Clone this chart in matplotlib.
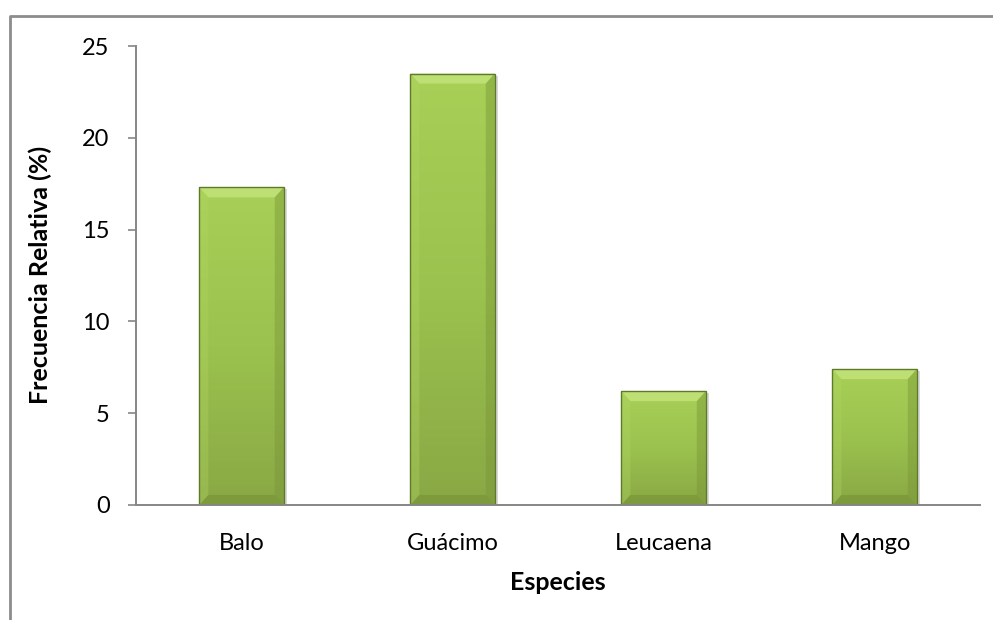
import numpy as np
import matplotlib
matplotlib.use("Agg")
import matplotlib.pyplot as plt
from matplotlib.patches import Polygon
from matplotlib.lines import Line2D
from matplotlib.colors import LinearSegmentedColormap

especies = ["Balo", "Guácimo", "Leucaena", "Mango"]
frecuencia = [17.3, 23.5, 6.2, 7.4]
y_ticks = [0, 5, 10, 15, 20, 25]

plt.rcParams["font.family"] = ["Lato", "DejaVu Sans"]

fig = plt.figure(figsize=(9.93, 6.2), dpi=100)
ax = fig.add_axes([0.137, 0.1855, 0.850, 0.7403])

# outer chart frame (left and top edges only)
fig.add_artist(Line2D([10 / 993, 10 / 993, 1.0], [0.0, 1 - 16 / 620, 1 - 16 / 620],
                      transform=fig.transFigure, color="#8c8c8c", lw=2.0))

ax.set_xlim(-0.5, len(especies) - 0.5)
ax.set_ylim(0, 25)

grad = LinearSegmentedColormap.from_list("bar", ["#89a845", "#9bc24e", "#a8d057"])
width = 0.40

fig.canvas.draw()
px_x = ax.transData.transform((1, 0))[0] - ax.transData.transform((0, 0))[0]
px_y = ax.transData.transform((0, 1))[1] - ax.transData.transform((0, 0))[1]
bx, by = 9 / px_x, 10 / px_y

for i, v in enumerate(frecuencia):
    x0, x1 = i - width / 2, i + width / 2
    # soft shadow behind the bar
    ax.add_patch(Polygon([(x0 + 2 / px_x, 0), (x1 + 3 / px_x, 0), (x1 + 3 / px_x, v - 2 / px_y),
                          (x0 + 2 / px_x, v - 2 / px_y)], closed=True,
                         facecolor="#000000", alpha=0.15, lw=0, zorder=1))
    bar = ax.bar(i, v, width=width, color="none", edgecolor="none", zorder=2)[0]
    img = ax.imshow(np.linspace(0, 1, 256).reshape(-1, 1), cmap=grad, origin="lower",
                    extent=(x0, x1, 0, v), aspect="auto", zorder=2)
    img.set_clip_path(bar)
    # bevel facets
    top = [(x0, v), (x1, v), (x1 - bx, v - by), (x0 + bx, v - by)]
    left = [(x0, v), (x0 + bx, v - by), (x0 + bx, by), (x0, 0)]
    right = [(x1, v), (x1, 0), (x1 - bx, by), (x1 - bx, v - by)]
    bottom = [(x0, 0), (x1, 0), (x1 - bx, by), (x0 + bx, by)]
    ax.add_patch(Polygon(top, closed=True, facecolor="#c4e47c", alpha=0.8, lw=0, zorder=3))
    ax.add_patch(Polygon(left, closed=True, facecolor="#b0d562", alpha=0.35, lw=0, zorder=3))
    ax.add_patch(Polygon(right, closed=True, facecolor="#7a9638", alpha=0.45, lw=0, zorder=3))
    ax.add_patch(Polygon(bottom, closed=True, facecolor="#6f8a32", alpha=0.45, lw=0, zorder=3))
    ax.add_patch(Polygon([(x0, 0), (x0, v), (x1, v), (x1, 0)], closed=True,
                         facecolor="none", edgecolor="#5d7a2a", lw=1.0, zorder=4))

ax.set_xticks(range(len(especies)))
ax.set_xticklabels(especies, fontsize=17)
ax.tick_params(axis="x", length=0, pad=20)
ax.set_yticks(y_ticks)
ax.set_yticklabels([str(t) for t in y_ticks], fontsize=17)
ax.tick_params(axis="y", length=6, width=1.2, color="#868686", pad=13)

for s in ("top", "right"):
    ax.spines[s].set_visible(False)
for s in ("left", "bottom"):
    ax.spines[s].set_color("#868686")
    ax.spines[s].set_linewidth(1.4)
ax.spines["bottom"].set_zorder(5)

fig.text(40 / 993, 1 - 275 / 620, "Frecuencia Relativa (%)", rotation=90,
         ha="center", va="center", fontsize=18, fontweight="bold")
fig.text(558 / 993, 1 - 583 / 620, "Especies", ha="center", va="center",
         fontsize=18, fontweight="bold")

fig.savefig("out.png", dpi=100)
